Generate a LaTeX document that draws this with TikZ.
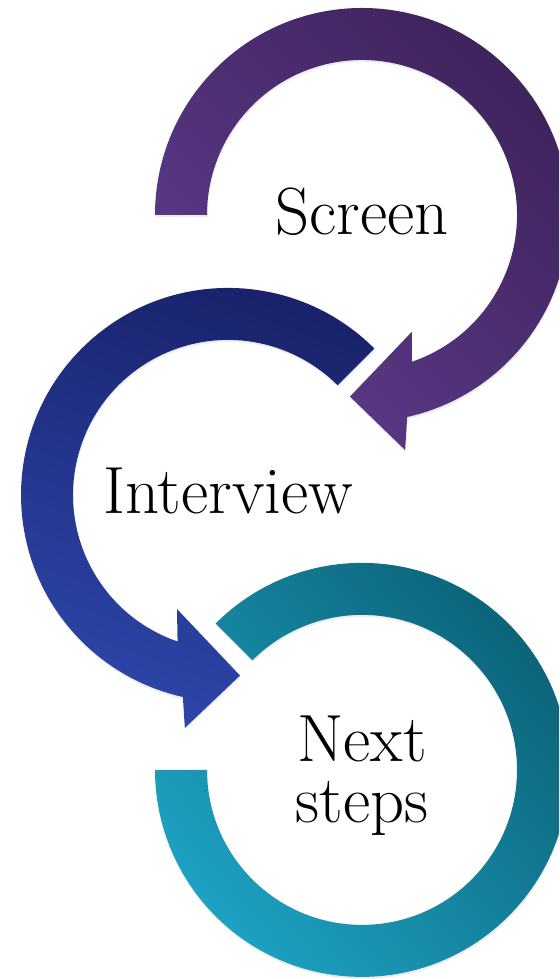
\documentclass[tikz,border=0pt]{standalone}
\usepackage{tikz}
\usetikzlibrary{positioning,shadows}

\definecolor{screendark}{HTML}{3F235D}
\definecolor{screenlight}{HTML}{5D3C8C}
\definecolor{interdark}{HTML}{19226B}
\definecolor{interlight}{HTML}{2D46AA}
\definecolor{nextdark}{HTML}{0B6175}
\definecolor{nextlight}{HTML}{1EA2C4}

\begin{document}
\begin{tikzpicture}[x=0.02cm,y=0.02cm,
  band/.style={drop shadow={opacity=0.15,shadow xshift=0.3pt,shadow yshift=-1.2pt}},
  screenband/.style={band,top color=screendark,bottom color=screenlight,shading angle=-45},
  interband/.style={band,top color=interdark,bottom color=interlight,shading angle=-20},
  nextband/.style={band,top color=nextdark,bottom color=nextlight,shading angle=-50},
  lbl/.style={font=\fontsize{38}{35}\selectfont,align=center,inner sep=0pt}]

  \clip (0,0) rectangle (559,979);

  % centres of the three rings
  \coordinate (c1) at (362,764);
  \coordinate[below left=5.6cm and 2.68cm of c1] (c2);
  \coordinate[below right=5.5cm and 2.68cm of c2] (c3);

  \path[screenband,shift={(c1)}]
    (180:207) arc[start angle=180,end angle=-77.4,radius=207]
    -- (-79.6:239) -- (-93.8:182) -- (-66.9:127) -- (-71.2:155)
    arc[start angle=-71.2,end angle=180,radius=155] -- cycle;

  \path[interband,shift={(c2)}]
    (45:207) arc[start angle=45,end angle=257.4,radius=207]
    -- (259.5:237) -- (273.8:181) -- (245.9:125) -- (251:155)
    arc[start angle=251,end angle=45,radius=155] -- cycle;

  \path[nextband,shift={(c3)}]
    (135:207) arc[start angle=135,end angle=-180,radius=207]
    -- (180:155) arc[start angle=-180,end angle=135,radius=155] -- cycle;

  \node[lbl,yshift=0.06cm] (screen) at (c1) {Screen};
  \node[lbl,yshift=0.08cm] (interview) at (c2) {Interview};
  \node[lbl,yshift=-0.12cm] (next) at (c3) {Next\\steps};

\end{tikzpicture}
\end{document}
